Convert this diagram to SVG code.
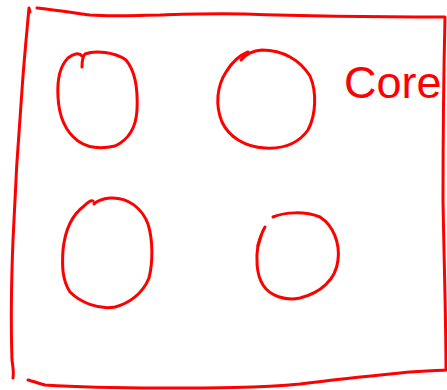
<svg xmlns="http://www.w3.org/2000/svg" width="447" height="390" viewBox="0 0 447 390">
<style>
.s{fill:none;stroke:#ff0000;stroke-width:3;stroke-linecap:round;stroke-linejoin:round}
.t{fill:#ff0000;font-family:"Liberation Sans",Arial,sans-serif;font-size:45px}
</style>
<rect width="447" height="390" fill="#ffffff"/>
<g id="frame">
<path class="s" d="M37,8 C55,10 75,13 90,15 C115,17 140,15 160,15 C190,14 215,13 245,14 C300,16 380,17 445,17 C444,60 443,140 443,200 C444,260 446,320 446,370 C430,371 418,371 400,373 C370,376 340,379 300,384 C260,388 210,388 160,388 C110,388 75,387 45,385 C38,383 32,381 28,380"/>
<path class="s" d="M30,12 L29,8 C27,30 24,60 22,90 C18,140 15,190 13,240 C11,290 11,330 12,360 C13,368 14,372 13,378"/>
</g>
<g id="node1">
<path class="s" d="M82,67 C82,62 82,57 85,54 C95,50 115,52 126,60 C136,72 138,90 137,110 C136,128 128,140 115,146 C102,149 88,148 78,141 C66,132 59,117 58,97 C57,80 60,66 68,58 C73,54 79,52 82,56"/>
</g>
<g id="node2">
<path class="s" d="M241,60 C245,55 250,51 262,50 C283,50 300,60 310,76 C317,92 316,115 308,130 C298,144 282,149 265,148 C245,147 229,137 222,122 C215,105 217,86 226,72 C232,62 238,56 248,52"/>
</g>
<g id="node3">
<path class="s" d="M94,204 C97,201 100,199 110,198 C128,197 142,208 148,224 C153,240 153,262 149,278 C143,293 130,303 115,307 C98,310 80,302 70,292 C62,280 62,265 63,250 C65,230 72,215 84,206 C88,202 91,200 93,201"/>
</g>
<g id="node4">
<path class="s" d="M273,217 C285,212 305,211 320,217 C334,226 340,244 338,260 C336,280 320,293 300,298 C285,301 270,296 263,285 C256,274 256,257 258,245 C260,238 262,232 265,227"/>
<path class="s" d="M258,246 L261,236"/>
</g>
<g id="label">
<text class="t" x="344" y="98">Core</text>
</g>
</svg>
